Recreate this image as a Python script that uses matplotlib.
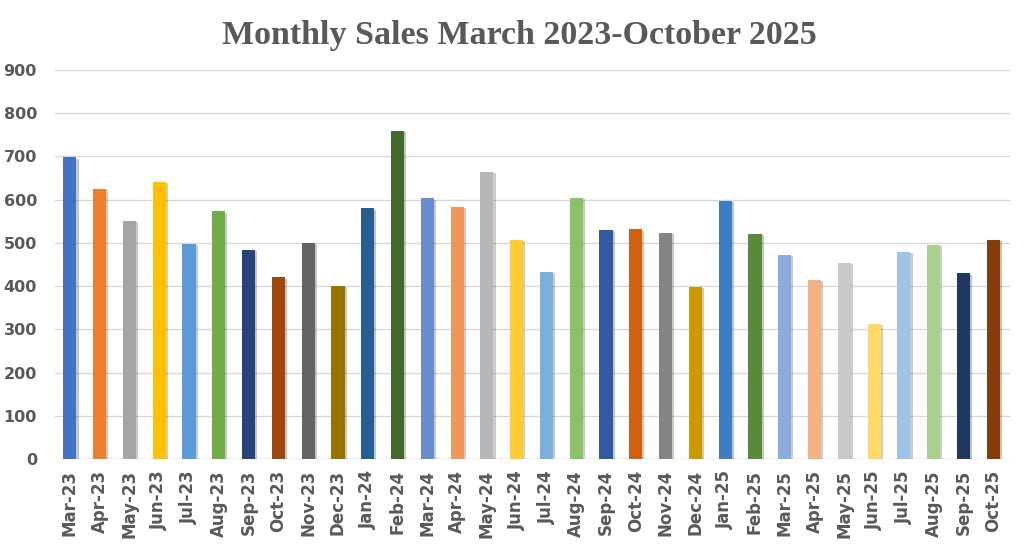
import matplotlib
matplotlib.use('Agg')
import matplotlib.pyplot as plt
import matplotlib.patheffects as pe

months = ['Mar-23', 'Apr-23', 'May-23', 'Jun-23', 'Jul-23', 'Aug-23', 'Sep-23', 'Oct-23',
          'Nov-23', 'Dec-23', 'Jan-24', 'Feb-24', 'Mar-24', 'Apr-24', 'May-24', 'Jun-24',
          'Jul-24', 'Aug-24', 'Sep-24', 'Oct-24', 'Nov-24', 'Dec-24', 'Jan-25', 'Feb-25',
          'Mar-25', 'Apr-25', 'May-25', 'Jun-25', 'Jul-25', 'Aug-25', 'Sep-25', 'Oct-25']
sales = [698, 625, 551, 642, 498, 573, 484, 420,
         500, 400, 580, 760, 603, 584, 665, 507,
         433, 605, 530, 531, 524, 398, 598, 521,
         472, 414, 454, 313, 480, 495, 430, 507]

# excel "vary colours by point" palette
bar_colors = ['#4472C4', '#ED7D31', '#A5A5A5', '#FFC000', '#5B9BD5', '#70AD47',
              '#264478', '#9E480E', '#636363', '#997300', '#255E91', '#43682B',
              '#698ED0', '#F1975A', '#B7B7B7', '#FFCD33', '#7CAFDD', '#8CC168',
              '#335AA1', '#D26012', '#848484', '#CC9A00', '#3C7DC4', '#5A8A39',
              '#8FAADC', '#F4B183', '#C9C9C9', '#FFD966', '#9DC3E6', '#A9D18E',
              '#203864', '#843C0C']

TEXT = '#595959'

fig = plt.figure(figsize=(10.24, 5.5), dpi=100)
ax = fig.add_axes([0.0537, 0.1655, 0.9323, 0.7072])

x = list(range(len(months)))
bars = ax.bar(x, sales, width=0.44, color=bar_colors, zorder=3)
for b in bars:
    b.set_path_effects([pe.SimplePatchShadow(offset=(1.5, -1), alpha=0.25), pe.Normal()])

ax.set_xlim(-0.5, len(months) - 0.45)
ax.set_ylim(0, 900)
ax.set_yticks(range(0, 901, 100))
ax.grid(axis='y', color='#D9D9D9', linewidth=1, zorder=0)
for s in ax.spines.values():
    s.set_visible(False)
ax.axhline(0, color='#D9D9D9', linewidth=1, zorder=1)

ax.set_xticks(x)
ax.set_xticklabels(months, rotation=90)
ax.tick_params(length=0)
ax.tick_params(axis='x', pad=8)
ax.tick_params(axis='y', pad=13)
for lbl in ax.get_xticklabels():
    lbl.set_fontweight('bold')
    lbl.set_color(TEXT)
    lbl.set_fontsize(12)
for lbl in ax.get_yticklabels():
    lbl.set_fontweight('bold')
    lbl.set_color(TEXT)
    lbl.set_fontsize(11.5)

fig.text(0.507, 0.936, 'Monthly Sales March 2023-October 2025', ha='center', va='center',
         fontsize=24.5, fontweight='bold', color=TEXT, family='Liberation Serif')

fig.savefig('out.png', dpi=100)
